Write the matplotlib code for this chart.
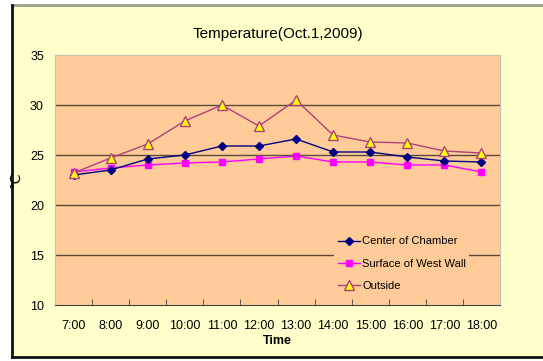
import matplotlib.pyplot as plt
from matplotlib.patches import Rectangle
from matplotlib.lines import Line2D

times = ['7:00', '8:00', '9:00', '10:00', '11:00', '12:00',
         '13:00', '14:00', '15:00', '16:00', '17:00', '18:00']
center = [23.0, 23.5, 24.6, 25.0, 25.9, 25.9, 26.6, 25.3, 25.3, 24.8, 24.4, 24.3]
west_wall = [23.3, 23.7, 24.0, 24.2, 24.3, 24.6, 24.9, 24.3, 24.3, 24.0, 24.0, 23.3]
outside = [23.2, 24.7, 26.1, 28.4, 30.0, 27.9, 30.5, 27.0, 26.3, 26.2, 25.4, 25.2]

W, H = 543, 361
fig = plt.figure(figsize=(W / 100, H / 100), dpi=100, facecolor='white')
plt.rcParams['font.family'] = ['Liberation Sans Narrow', 'Liberation Sans', 'DejaVu Sans']

# chart area background and frame
fig.patches.append(Rectangle((12 / W, 1 - 357 / H), 1, (357 - 5) / H,
                             transform=fig.transFigure, facecolor='#FFFFCC',
                             edgecolor='none', zorder=-10))
fig.lines.append(Line2D([12 / W, 1], [1 - 5 / H] * 2, transform=fig.transFigure,
                        color='#A0A090', lw=2, zorder=-5))
fig.lines.append(Line2D([12 / W, 12 / W], [1 - 5 / H, 1 - 357 / H],
                        transform=fig.transFigure, color='#101010', lw=2, zorder=-5))
fig.lines.append(Line2D([12 / W, 1], [1 - 357 / H] * 2, transform=fig.transFigure,
                        color='#101010', lw=2, zorder=-5))

ax = fig.add_axes([55 / W, 1 - 305 / H, 445 / W, 250 / H])
ax.set_facecolor('#FFCC99')

x = list(range(len(times)))
ax.plot(x, center, color='#000080', lw=1, marker='D', markersize=4,
        label='Center of Chamber', zorder=4)
ax.plot(x, west_wall, color='#FF00FF', lw=1, marker='s', markersize=5,
        label='Surface of West Wall', zorder=3)
ax.plot(x, outside, color='#B0407A', lw=1, marker='^', markersize=7,
        markerfacecolor='#FFFF00', markeredgecolor='#B0407A',
        label='Outside', zorder=5)

ax.set_xlim(-0.5, len(times) - 0.5)
ax.set_ylim(10, 35)
ax.set_yticks([10, 15, 20, 25, 30, 35])
ax.set_xticks(x)
ax.set_xticklabels(times, fontsize=9)
ax.tick_params(axis='y', labelsize=9, length=0, pad=8)
ax.tick_params(axis='x', length=0, pad=11)
ax.set_xticks([i + 0.5 for i in x[:-1]], minor=True)
ax.tick_params(axis='x', which='minor', length=4, direction='in', color='#404040')

for v in [15, 20, 25, 30]:
    ax.axhline(v, color='#5A4A3A', lw=1, zorder=1)

for s in ['top', 'right', 'left']:
    ax.spines[s].set_color('#C8C0B0')
ax.spines['bottom'].set_color('#404040')

ax.set_title('Temperature(Oct.1,2009)', fontsize=11, pad=12)
ax.set_xlabel('Time', fontsize=9, fontweight='bold', labelpad=2)
ax.set_ylabel('℃', fontsize=10, rotation=90)
ax.yaxis.set_label_coords(-33 / 445, 0.5)

leg = ax.legend(loc='upper left', bbox_to_anchor=(0.615, 0.31), fontsize=8,
                frameon=True, facecolor='#FFCC99', edgecolor='none',
                framealpha=1, handlelength=2.0, handletextpad=0.2,
                labelspacing=1.1, borderpad=0.3)
leg.set_zorder(6)

fig.savefig('out.png', dpi=100)
